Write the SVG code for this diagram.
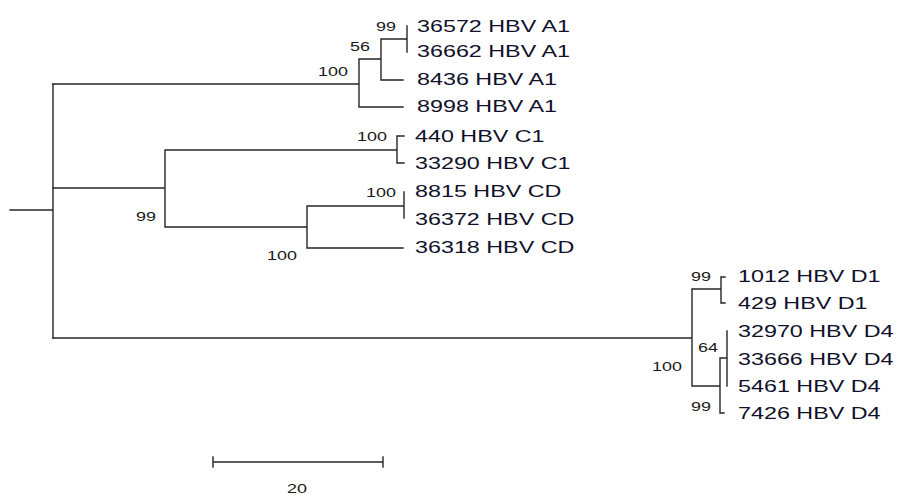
<svg xmlns="http://www.w3.org/2000/svg" width="898" height="495" viewBox="0 0 898 495">
<style>
.br{stroke:#262626;stroke-width:1.4;fill:none;stroke-linecap:square}
.lab{font-family:"Liberation Sans",Arial,sans-serif;font-size:16.3px;fill:#10102a}
.bs{font-family:"Liberation Sans",Arial,sans-serif;font-size:13px;fill:#1a1a1a;text-anchor:end}
.sc{font-family:"Liberation Sans",Arial,sans-serif;font-size:13px;fill:#1a1a1a;text-anchor:middle}
</style>
<rect width="898" height="495" fill="#ffffff"/>
<g id="connectors">
<path class="br" d="M10 210H53M53 84V338"/>
<path class="br" d="M53 84H359M359 59V107M359 59H381M381 39V80M381 39H407M407 26V52M381 80H403M359 107H403"/>
<path class="br" d="M53 188H165M165 150V227M165 150H397M397 136V163M397 136H404M397 163H404M165 227H307M307 206V248M307 206H404M404 192V218M307 248H403"/>
<path class="br" d="M53 338H692M692 289V386M692 289H721M721 277V303M721 277H725M721 303H725M692 386H720M720 358V413M720 413H724M720 358H727M727 331V386"/>
<path class="br" d="M213 462H383M213 457V467M383 457V467"/>
</g>
<g id="leaf-36572"><text class="lab" transform="translate(417,31.8) scale(1.43,1)">36572 HBV A1</text></g>
<g id="leaf-36662"><text class="lab" transform="translate(417,57.2) scale(1.43,1)">36662 HBV A1</text></g>
<g id="leaf-8436"><text class="lab" transform="translate(417,85.2) scale(1.43,1)">8436 HBV A1</text></g>
<g id="leaf-8998"><text class="lab" transform="translate(417,112.2) scale(1.43,1)">8998 HBV A1</text></g>
<g id="leaf-440"><text class="lab" transform="translate(415,142.2) scale(1.43,1)">440 HBV C1</text></g>
<g id="leaf-33290"><text class="lab" transform="translate(415,169.2) scale(1.43,1)">33290 HBV C1</text></g>
<g id="leaf-8815"><text class="lab" transform="translate(415,197.2) scale(1.43,1)">8815 HBV CD</text></g>
<g id="leaf-36372"><text class="lab" transform="translate(415,225.2) scale(1.43,1)">36372 HBV CD</text></g>
<g id="leaf-36318"><text class="lab" transform="translate(415,253.2) scale(1.43,1)">36318 HBV CD</text></g>
<g id="leaf-1012"><text class="lab" transform="translate(738,282.2) scale(1.43,1)">1012 HBV D1</text></g>
<g id="leaf-429"><text class="lab" transform="translate(738,309.2) scale(1.43,1)">429 HBV D1</text></g>
<g id="leaf-32970"><text class="lab" transform="translate(738,337.2) scale(1.43,1)">32970 HBV D4</text></g>
<g id="leaf-33666"><text class="lab" transform="translate(738,365.2) scale(1.43,1)">33666 HBV D4</text></g>
<g id="leaf-5461"><text class="lab" transform="translate(738,392.2) scale(1.43,1)">5461 HBV D4</text></g>
<g id="leaf-7426"><text class="lab" transform="translate(738,419.2) scale(1.43,1)">7426 HBV D4</text></g>
<g id="node-a1-99"><text class="bs" transform="translate(396,30.6) scale(1.38,1)">99</text></g>
<g id="node-a1-56"><text class="bs" transform="translate(370,51.1) scale(1.38,1)">56</text></g>
<g id="node-a1-100"><text class="bs" transform="translate(348,75.6) scale(1.38,1)">100</text></g>
<g id="node-c1-100"><text class="bs" transform="translate(387,140.6) scale(1.38,1)">100</text></g>
<g id="node-cd-100a"><text class="bs" transform="translate(396,196.6) scale(1.38,1)">100</text></g>
<g id="node-cd-100b"><text class="bs" transform="translate(297,259.6) scale(1.38,1)">100</text></g>
<g id="node-c-99"><text class="bs" transform="translate(156,220.6) scale(1.38,1)">99</text></g>
<g id="node-d1-99"><text class="bs" transform="translate(711,280.6) scale(1.38,1)">99</text></g>
<g id="node-d4-64"><text class="bs" transform="translate(718,351.6) scale(1.38,1)">64</text></g>
<g id="node-d-100"><text class="bs" transform="translate(682,370.6) scale(1.38,1)">100</text></g>
<g id="node-d4-99"><text class="bs" transform="translate(711,410.6) scale(1.38,1)">99</text></g>
<g id="scale-bar"><text class="sc" transform="translate(297,493) scale(1.38,1)">20</text></g>
</svg>
